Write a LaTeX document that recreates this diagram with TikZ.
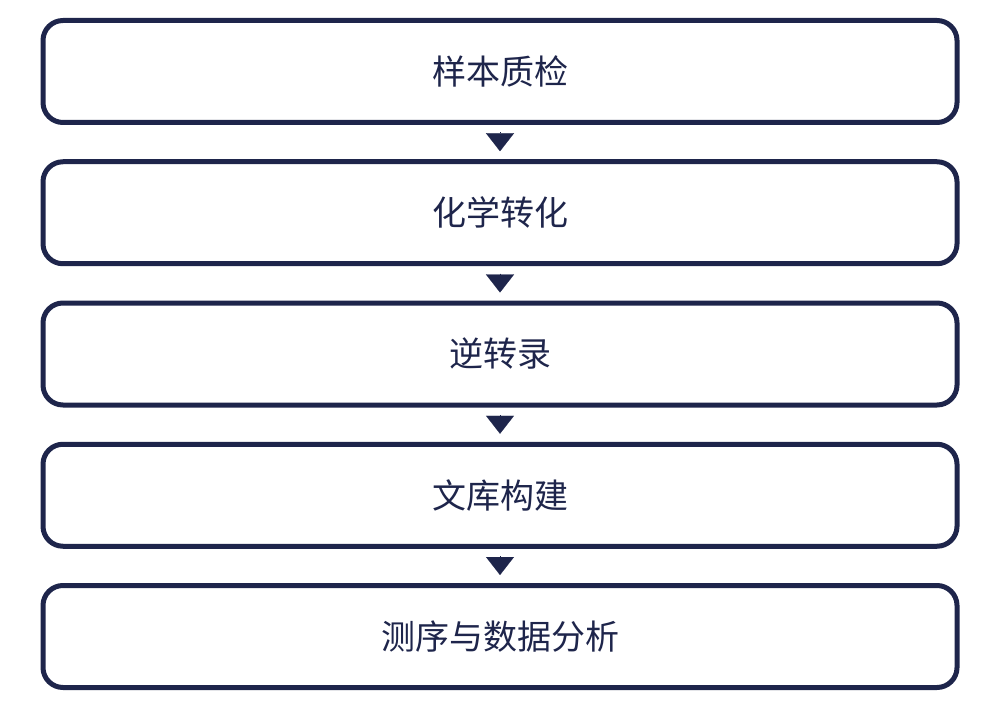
\documentclass[tikz,border=0pt]{standalone}
\usepackage{fontspec}
\newfontfamily\cjk{Noto Sans CJK SC}
\usetikzlibrary{positioning,arrows.meta}
\definecolor{navy}{RGB}{30,37,75}
\begin{document}
\begin{tikzpicture}[
	stage/.style={draw=navy, line width=5pt, rounded corners=20pt, outer sep=0pt,
		minimum width=914pt, minimum height=102pt, text=navy,
		font=\cjk\fontsize{34}{38}\selectfont},
	flow/.style={draw=navy, fill=navy, line width=0.1pt,
		-{Triangle[width=28pt,length=18pt]}, shorten <=10pt, shorten >=10.5pt}]
	 \useasboundingbox (0,0) rectangle (1000pt,-708pt);
	 \node[stage] (qc) at (500pt,-71.5pt) {样本质检};
	 \node[stage] (chem) [below=39.25pt of qc] {化学转化};
	 \node[stage] (rt) [below=39.25pt of chem] {逆转录};
	 \node[stage] (lib) [below=39.25pt of rt] {文库构建};
	 \node[stage] (seq) [below=39.25pt of lib] {测序与数据分析};

	 \draw[flow] (qc) -- (chem);
	 \draw[flow] (chem) -- (rt);
	 \draw[flow] (rt) -- (lib);
	 \draw[flow] (lib) -- (seq);
	\end{tikzpicture}
\end{document}
